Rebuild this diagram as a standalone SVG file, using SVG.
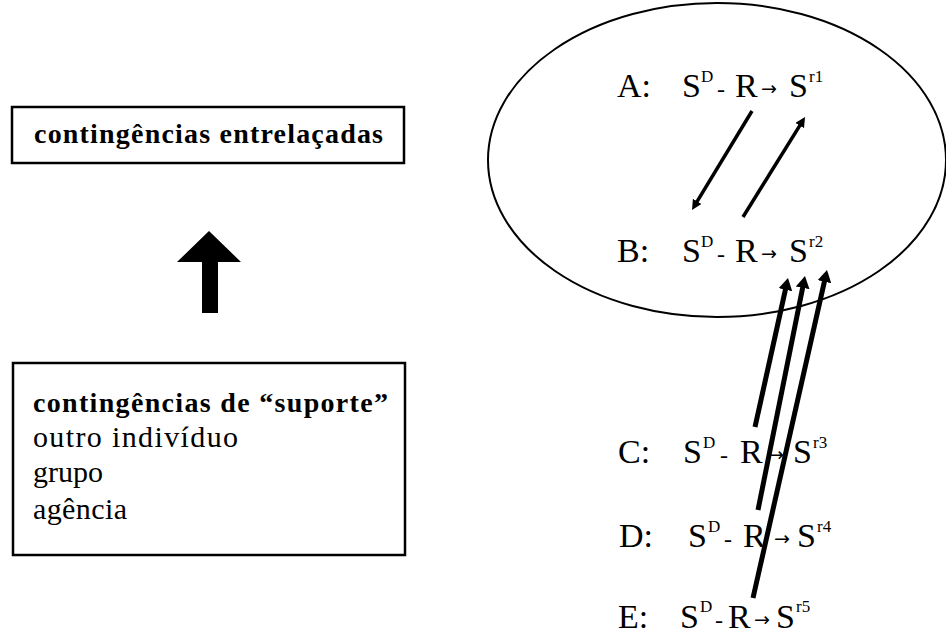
<svg xmlns="http://www.w3.org/2000/svg" width="946" height="635" viewBox="0 0 946 635">
<style>
.box{fill:none;stroke:#000;stroke-width:2.5}
.t{font-family:"Liberation Serif","Times New Roman",serif;fill:#000}
.lb{font-size:28px}
.lr{font-size:30px}
.b{font-weight:bold}
.m{font-size:34px}
.sup{font-size:17px}
.dash{font-size:24px}
.ar{font-family:"DejaVu Sans",sans-serif;font-size:19px;fill:#000}
.thin{stroke:#000;stroke-width:3.5;fill:none}
.thick{stroke:#000;stroke-width:5;fill:none}
.ell{fill:none;stroke:#000;stroke-width:2}
</style>
<defs>
<marker id="hThin" markerUnits="userSpaceOnUse" markerWidth="12" markerHeight="12" refX="5" refY="5" orient="auto">
<path d="M0,0 L10,5 L0,10 z" fill="#000"/>
</marker>
<marker id="hThick" markerUnits="userSpaceOnUse" markerWidth="16" markerHeight="16" refX="6" refY="7" orient="auto">
<path d="M0,0 L12,7 L0,14 z" fill="#000"/>
</marker>
</defs>
<rect width="946" height="635" fill="#fff"/>

<g id="entrelacadas">
<rect class="box" x="12" y="107" width="392" height="56"/>
<text class="t lb b" x="34" y="143" textLength="349" lengthAdjust="spacing">contingências entrelaçadas</text>
</g>

<g id="suporte">
<rect class="box" x="13" y="363" width="392" height="192"/>
<text class="t lb b" x="33" y="412" textLength="355" lengthAdjust="spacing">contingências de “suporte”</text>
<text class="t lr" x="33" y="447" textLength="205" lengthAdjust="spacing">outro indivíduo</text>
<text class="t lr" x="33" y="482">grupo</text>
<text class="t lr" x="33" y="519" textLength="94" lengthAdjust="spacing">agência</text>
</g>

<g id="grupo-ellipse">
<ellipse class="ell" cx="717" cy="160" rx="229" ry="157"/>
</g>

<g id="A">
<text class="t m" x="617" y="97">A:</text>
<text class="t m" x="682" y="97">S</text>
<text class="t sup" x="701" y="82">D</text>
<text class="t dash" x="717" y="97">-</text>
<text class="t m" x="735" y="97">R</text>
<text class="ar" x="761" y="95">→</text>
<text class="t m" x="789" y="97">S</text>
<text class="t sup" x="809" y="82">r1</text>
</g>

<g id="B">
<text class="t m" x="617" y="262">B:</text>
<text class="t m" x="682" y="262">S</text>
<text class="t sup" x="701" y="247">D</text>
<text class="t dash" x="717" y="262">-</text>
<text class="t m" x="735" y="262">R</text>
<text class="ar" x="761" y="260">→</text>
<text class="t m" x="789" y="262">S</text>
<text class="t sup" x="809" y="247">r2</text>
</g>

<g id="C">
<text class="t m" x="618" y="463">C:</text>
<text class="t m" x="683" y="463">S</text>
<text class="t sup" x="703" y="448">D</text>
<text class="t dash" x="720" y="463">-</text>
<text class="t m" x="740" y="463">R</text>
<text class="ar" x="768" y="461">→</text>
<text class="t m" x="793" y="463">S</text>
<text class="t sup" x="813" y="448">r3</text>
</g>

<g id="D">
<text class="t m" x="619" y="547">D:</text>
<text class="t m" x="688" y="547">S</text>
<text class="t sup" x="708" y="532">D</text>
<text class="t dash" x="724" y="547">-</text>
<text class="t m" x="743" y="547">R</text>
<text class="ar" x="774" y="545">→</text>
<text class="t m" x="797" y="547">S</text>
<text class="t sup" x="817" y="532">r4</text>
</g>

<g id="E">
<text class="t m" x="618" y="628">E:</text>
<text class="t m" x="680" y="628">S</text>
<text class="t sup" x="700" y="612">D</text>
<text class="t dash" x="715" y="628">-</text>
<text class="t m" x="728" y="628">R</text>
<text class="ar" x="754" y="626">→</text>
<text class="t m" x="776" y="628">S</text>
<text class="t sup" x="796" y="612">r5</text>
</g>

<g id="connectors">
<polygon points="209,231 241,262 218,262 218,313 202,313 202,262 177,262" fill="#000"/>
<line class="thin" x1="752" y1="111" x2="694.6" y2="205.7" marker-end="url(#hThin)"/>
<line class="thin" x1="743" y1="217" x2="802.4" y2="121.3" marker-end="url(#hThin)"/>
<line class="thick" x1="755" y1="427" x2="786.7" y2="283.9" marker-end="url(#hThick)"/>
<line class="thick" x1="758" y1="510" x2="803.8" y2="281.9" marker-end="url(#hThick)"/>
<line class="thick" x1="753" y1="598" x2="825.7" y2="275.9" marker-end="url(#hThick)"/>
</g>
</svg>
